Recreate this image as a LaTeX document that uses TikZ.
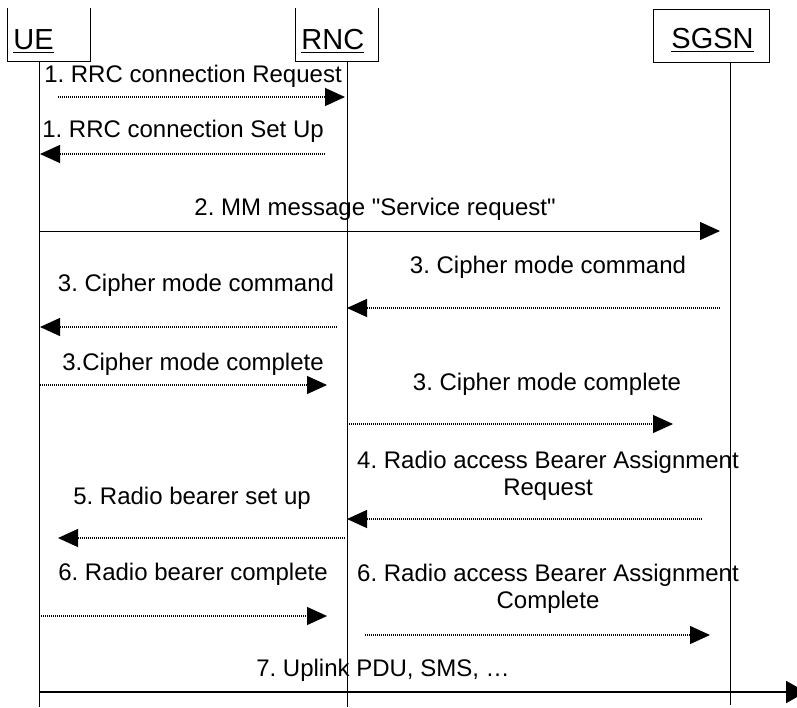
\documentclass[tikz,border=0pt]{standalone}
\usepackage{fontspec}
\setmainfont{Liberation Sans}
\usetikzlibrary{arrows.meta}
\frenchspacing

\begin{document}
\begin{tikzpicture}[x=0.5pt, y=-0.5pt,
    entbox/.style={rectangle, minimum height=26.5pt, inner sep=0pt},
    entity/.style={font=\fontsize{14.5}{17}\selectfont, anchor=base west, inner sep=0pt},
    msgtext/.style={font=\fontsize{12}{13.5}\selectfont, anchor=base, inner sep=0pt, align=center},
    dotmsg/.style={line width=0.6pt, dash pattern=on 0.5pt off 0.5pt, -{Triangle[length=10pt,width=9pt]}},
    solmsg/.style={line width=0.5pt, -{Triangle[length=10pt,width=9pt]}}
]
    \useasboundingbox (0,0) rectangle (797,707);

    % entities
    \node[entbox, minimum width=41pt] (uebox) at (49,34.5) {};
    \node[entbox, minimum width=41pt] (rncbox) at (337,34.5) {};
    \node[entbox, draw, line width=0.5pt, minimum width=58pt] (sgsnbox) at (711,35.5) {};
    \draw[line width=0.5pt] (uebox.north west) -- (uebox.south west) -- (uebox.south east) -- (uebox.north east);
    \draw[line width=0.5pt] (rncbox.north west) -- (rncbox.south west) -- (rncbox.south east) -- (rncbox.north east);
    \node[entity] (ue) at (13,49) {\underline{UE}};
    \node[entity] (rnc) at (301,49) {\underline{RNC}};
    \node[entity] (sgsn) at (671,48) {\underline{SGSN}};

    % lifelines
    \coordinate (ue top) at (39,61);
    \coordinate (ue bot) at (39,707);
    \coordinate (rnc top) at (347,61);
    \coordinate (rnc bot) at (347,707);
    \coordinate (sgsn top) at (730,62);
    \coordinate (sgsn bot) at (730,705);
    \draw[line width=0.5pt] (ue top) -- (ue bot);
    \draw[line width=0.5pt] (rnc top) -- (rnc bot);
    \draw[line width=0.5pt] (sgsn top) -- (sgsn bot);

    % 1. RRC connection
    \node[msgtext] (m1) at (193,82) {1. RRC connection Request};
    \coordinate (m1a) at (58,97);
    \coordinate (m1b) at (345,97);
    \draw[dotmsg] (m1a) -- (m1b);

    \node[msgtext] (m2) at (183,137) {1. RRC connection Set Up};
    \coordinate (m2a) at (325,154);
    \coordinate (m2b) at (40,154);
    \draw[dotmsg] (m2a) -- (m2b);

    % 2. service request
    \node[msgtext] (m3) at (375,215) {2. MM message \textquotedbl Service request\textquotedbl};
    \coordinate (m3a) at (39,231);
    \coordinate (m3b) at (720,231);
    \draw[solmsg] (m3a) -- (m3b);

    % 3. cipher mode
    \node[msgtext] (m4) at (548,273) {3. Cipher mode command};
    \coordinate (m4a) at (720,308);
    \coordinate (m4b) at (347,308);
    \draw[dotmsg] (m4a) -- (m4b);

    \node[msgtext] (m5) at (196,291) {3. Cipher mode command};
    \coordinate (m5a) at (337,327);
    \coordinate (m5b) at (40,327);
    \draw[dotmsg] (m5a) -- (m5b);

    \node[msgtext] (m6) at (193,370) {3.Cipher mode complete};
    \coordinate (m6a) at (40,385);
    \coordinate (m6b) at (327,385);
    \draw[dotmsg] (m6a) -- (m6b);

    \node[msgtext] (m7) at (547,390) {3. Cipher mode complete};
    \coordinate (m7a) at (347,424);
    \coordinate (m7b) at (673,424);
    \draw[dotmsg] (m7a) -- (m7b);

    % 4./5. bearer set up
    \node[msgtext] (m8) at (548,495) {4. Radio access Bearer Assignment\\Request};
    \coordinate (m8a) at (702,519);
    \coordinate (m8b) at (347,519);
    \draw[dotmsg] (m8a) -- (m8b);

    \node[msgtext] (m9) at (192,504) {5. Radio bearer set up};
    \coordinate (m9a) at (345,538);
    \coordinate (m9b) at (58,538);
    \draw[dotmsg] (m9a) -- (m9b);

    % 6. complete
    \node[msgtext] (m10) at (193,580) {6. Radio bearer complete};
    \coordinate (m10a) at (39,616);
    \coordinate (m10b) at (327,616);
    \draw[dotmsg] (m10a) -- (m10b);

    \node[msgtext] (m11) at (548,608) {6. Radio access Bearer Assignment\\Complete};
    \coordinate (m11a) at (365,635);
    \coordinate (m11b) at (710,635);
    \draw[dotmsg] (m11a) -- (m11b);

    % 7. uplink data
    \node[msgtext] (m12) at (383,676) {7. Uplink PDU, SMS, …};
    \coordinate (m12a) at (39,692);
    \coordinate (m12b) at (806,692);
    \draw[line width=1pt, -{Triangle[length=10pt,width=11pt]}] (m12a) -- (m12b);
\end{tikzpicture}
\end{document}
